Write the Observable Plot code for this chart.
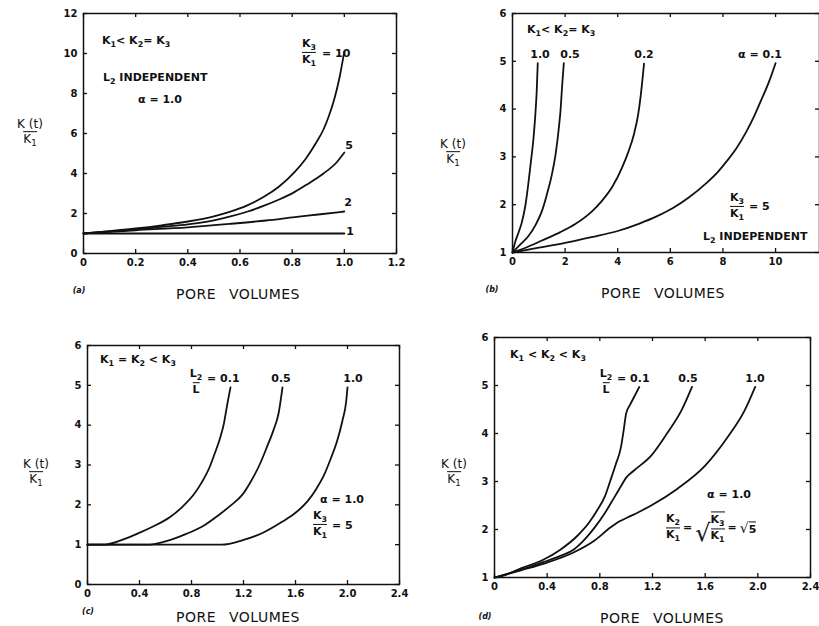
<!DOCTYPE html>
<html>
<head>
<meta charset="utf-8">
<script src="https://cdn.jsdelivr.net/npm/d3@7"></script>
<script src="https://cdn.jsdelivr.net/npm/@observablehq/plot@0.6"></script>
<style>
  html, body { margin: 0; padding: 0; background: #fff; }
  #wrap { position: relative; width: 819px; height: 626px; overflow: hidden; background: #fff; font-family: "DejaVu Sans", sans-serif; color: #111; }
  .pl { position: absolute; }
  .ann { position: absolute; white-space: pre; line-height: 1; font-size: 11px; font-weight: bold; color: #111; }
  .c { transform: translate(-50%, -50%); }
  .l { transform: translate(0, -50%); }
  .frac { display: inline-flex; flex-direction: column; align-items: center; vertical-align: middle; line-height: 1.05; }
  .frac .den { border-top: 1.3px solid #111; padding-top: 1px; }
  .sb { font-size: 0.72em; vertical-align: -0.35em; }
  .xl { font-size: 14px; font-weight: normal; letter-spacing: 0.5px; word-spacing: 8px; }
  .yl { font-size: 12px; font-weight: normal; }
  .pan { font-size: 8px; font-style: italic; font-weight: bold; }
  .row { display: inline-flex; align-items: center; gap: 3px; }
  .sq { display: inline-flex; align-items: flex-end; }
  .rad { font-size: 24px; font-weight: normal; line-height: 0.9; }
  .rad.s { font-size: 14px; }
  .ov { display: inline-block; border-top: 1.3px solid #111; padding-top: 2px; }
</style>
</head>
<body>
<div id="wrap"></div>
<script>
// ---------------- DATA ----------------
// Panel (a): K(t)/K1 vs pore volumes, curves labelled by K3/K1
const aXTicks = [0, 0.2, 0.4, 0.6, 0.8, 1.0, 1.2];
const aYTicks = [0, 2, 4, 6, 8, 10, 12];
const aRatio10 = [[0,1],[0.1,1.12],[0.2,1.25],[0.3,1.41],[0.4,1.6],[0.5,1.86],[0.56,2.08],[0.63,2.42],[0.69,2.82],[0.75,3.35],[0.81,4.08],[0.85,4.7],[0.89,5.5],[0.92,6.2],[0.94,6.85],[0.96,7.65],[0.98,8.7],[1.0,10.1]];
const aRatio5  = [[0,1],[0.1,1.1],[0.2,1.2],[0.3,1.33],[0.4,1.46],[0.5,1.66],[0.56,1.84],[0.63,2.1],[0.69,2.38],[0.75,2.7],[0.81,3.08],[0.86,3.48],[0.92,4.0],[0.97,4.55],[1.0,5.05]];
const aRatio2  = [[0,1],[0.2,1.16],[0.4,1.31],[0.56,1.48],[0.7,1.65],[0.81,1.82],[0.9,1.95],[1.0,2.1]];
const aRatio1  = [[0,1],[0.5,1],[1.0,1]];

// Panel (b): curves labelled by alpha
const bXTicks = [0, 2, 4, 6, 8, 10];
const bYTicks = [1, 2, 3, 4, 5, 6];
const bAlpha10 = [[0,1],[0.12,1.25],[0.25,1.45],[0.35,1.62],[0.5,2.02],[0.6,2.43],[0.7,2.9],[0.8,3.4],[0.87,3.9],[0.92,4.37],[0.96,4.96]];
const bAlpha05 = [[0,1],[0.3,1.17],[0.6,1.34],[0.9,1.6],[1.12,1.87],[1.3,2.2],[1.5,2.64],[1.65,3.1],[1.76,3.6],[1.83,4.0],[1.88,4.43],[1.95,4.96]];
const bAlpha02 = [[0,1],[0.5,1.1],[1.12,1.25],[1.8,1.42],[2.4,1.6],[3.0,1.85],[3.4,2.08],[3.8,2.38],[4.16,2.77],[4.4,3.1],[4.62,3.48],[4.78,3.9],[4.88,4.31],[5.0,4.95]];
const bAlpha01 = [[0,1],[0.5,1.05],[1,1.1],[2,1.2],[3,1.32],[4,1.45],[4.8,1.6],[5.5,1.76],[6.1,1.93],[6.7,2.15],[7.37,2.45],[7.8,2.68],[8.13,2.9],[8.5,3.17],[8.9,3.54],[9.2,3.87],[9.4,4.12],[9.77,4.6],[10.0,4.96]];

// Panel (c): curves labelled by L2/L
const cXTicks = [0, 0.4, 0.8, 1.2, 1.6, 2.0, 2.4];
const cYTicks = [0, 1, 2, 3, 4, 5, 6];
const cL01 = [[0,1],[0.12,1],[0.25,1.1],[0.38,1.27],[0.5,1.45],[0.63,1.68],[0.73,1.95],[0.82,2.27],[0.88,2.57],[0.94,2.95],[0.98,3.3],[1.02,3.68],[1.05,4.05],[1.07,4.43],[1.1,4.95]];
const cL05 = [[0,1],[0.48,1],[0.6,1.08],[0.76,1.27],[0.88,1.45],[1.02,1.77],[1.1,1.98],[1.19,2.25],[1.25,2.55],[1.33,3.05],[1.38,3.45],[1.43,3.87],[1.47,4.3],[1.5,4.95]];
const cL10 = [[0,1],[1.03,1],[1.2,1.12],[1.35,1.3],[1.5,1.58],[1.6,1.8],[1.69,2.08],[1.76,2.4],[1.82,2.75],[1.87,3.15],[1.92,3.6],[1.96,4.1],[1.99,4.6],[2.0,4.95]];

// Panel (d): curves labelled by L2/L
const dXTicks = [0, 0.4, 0.8, 1.2, 1.6, 2.0, 2.4];
const dYTicks = [1, 2, 3, 4, 5, 6];
const dL01 = [[0,1],[0.07,1.04],[0.2,1.19],[0.37,1.37],[0.5,1.58],[0.63,1.87],[0.72,2.15],[0.78,2.4],[0.84,2.7],[0.88,3.02],[0.92,3.35],[0.96,3.71],[0.98,4.05],[1.0,4.42],[1.03,4.6],[1.06,4.76],[1.1,4.97]];
const dL05 = [[0,1],[0.2,1.16],[0.37,1.32],[0.5,1.45],[0.6,1.58],[0.68,1.78],[0.76,2.04],[0.84,2.35],[0.91,2.67],[0.96,2.9],[1.0,3.08],[1.06,3.23],[1.19,3.54],[1.31,4.0],[1.42,4.48],[1.5,4.97]];
const dL10 = [[0,1],[0.2,1.15],[0.4,1.31],[0.6,1.52],[0.76,1.77],[0.88,2.04],[0.95,2.17],[1.01,2.25],[1.1,2.37],[1.19,2.5],[1.39,2.85],[1.6,3.33],[1.77,3.92],[1.9,4.48],[1.98,4.97]];

// ---------------- DRAWING ----------------
const wrap = document.getElementById("wrap");
const INK = "#111";

function rows(list) {
  return list.flatMap(([name, pts]) => pts.map(([x, y]) => ({s: name, x, y})));
}
const fmt1 = d => d === 0 ? "0" : d3.format(".1f")(d);
const fmt0 = d => String(d);

function panel(o) {
  const innerW = o.width - o.ml - o.mr;
  const innerH = o.height - o.mt - o.mb;
  const T = 4;
  const svg = Plot.plot({
    width: o.width, height: o.height,
    marginLeft: o.ml, marginRight: o.mr, marginTop: o.mt, marginBottom: o.mb,
    style: {fontFamily: "DejaVu Sans, sans-serif", fontSize: "10px", fontWeight: "bold", background: "transparent", color: INK, overflow: "visible"},
    x: {domain: o.xDomain},
    y: {domain: o.yDomain},
    marks: [
      Plot.frame({stroke: INK, strokeWidth: 1.5}),
      Plot.tickX(o.xTicks, {x: d => d, insetTop: innerH - T, stroke: INK, strokeWidth: 1.3}),
      Plot.tickX(o.xTicks, {x: d => d, insetBottom: innerH - T, stroke: INK, strokeWidth: 1.3}),
      Plot.tickY(o.yTicks, {y: d => d, insetRight: innerW - T, stroke: INK, strokeWidth: 1.3}),
      Plot.tickY(o.yTicks, {y: d => d, insetLeft: innerW - T, stroke: INK, strokeWidth: 1.3}),
      Plot.axisX(o.xTicks, {anchor: "bottom", tickSize: 0, tickPadding: 5, tickFormat: o.xFmt, label: null, fill: INK}),
      Plot.axisY(o.yTicks, {anchor: "left", tickSize: 0, tickPadding: 6, tickFormat: fmt0, label: null, fill: INK}),
      Plot.line(rows(o.series), {x: "x", y: "y", z: "s", curve: "monotone-x", stroke: INK, strokeWidth: 1.8})
    ]
  });
  svg.classList.add("pl");
  svg.style.left = o.left + "px";
  svg.style.top = o.top + "px";
  wrap.appendChild(svg);
}

panel({left: 0, top: 0, width: 410, height: 300, ml: 83, mr: 14, mt: 13, mb: 47,
  xDomain: [0, 1.2], yDomain: [0, 12], xTicks: aXTicks, yTicks: aYTicks, xFmt: fmt1,
  series: [["10", aRatio10], ["5", aRatio5], ["2", aRatio2], ["1", aRatio1]]});

panel({left: 410, top: 0, width: 409, height: 300, ml: 102, mr: 0, mt: 13, mb: 48,
  xDomain: [0, 11.67], yDomain: [1, 6], xTicks: bXTicks, yTicks: bYTicks, xFmt: fmt0,
  series: [["1.0", bAlpha10], ["0.5", bAlpha05], ["0.2", bAlpha02], ["0.1", bAlpha01]]});

panel({left: 0, top: 300, width: 410, height: 326, ml: 87, mr: 11, mt: 45, mb: 42,
  xDomain: [0, 2.4], yDomain: [0, 6], xTicks: cXTicks, yTicks: cYTicks, xFmt: fmt1,
  series: [["0.1", cL01], ["0.5", cL05], ["1.0", cL10]]});

panel({left: 410, top: 300, width: 409, height: 326, ml: 84, mr: 9, mt: 37, mb: 49,
  xDomain: [0, 2.4], yDomain: [1, 6], xTicks: dXTicks, yTicks: dYTicks, xFmt: fmt1,
  series: [["0.1", dL01], ["0.5", dL05], ["1.0", dL10]]});

// ---------------- ANNOTATIONS ----------------
function ann(x, y, html, cls = "c", extra = "") {
  const d = document.createElement("div");
  d.className = "ann " + cls + " " + extra;
  d.style.left = x + "px";
  d.style.top = y + "px";
  d.innerHTML = html;
  wrap.appendChild(d);
}
const K = n => `K<span class="sb">${n}</span>`;
const frac = (a, b) => `<span class="frac"><span>${a}</span><span class="den">${b}</span></span>`;
const ylab = `<span class="frac"><span>K (t)</span><span class="den">${K(1)}</span></span>`;

// (a)
ann(102, 42, `${K(1)}&lt; ${K(2)}= ${K(3)}`, "l");
ann(309, 53, frac(K(3), K(1)));
ann(322, 53, "= 10", "l");
ann(349, 145, "5");
ann(348, 202, "2");
ann(350, 231, "1");
ann(103, 79, `L<span class="sb">2</span> INDEPENDENT`, "l");
ann(138, 99, "α = 1.0", "l");
ann(30, 133, ylab, "c", "yl");
ann(79, 291, "(a)", "c", "pan");
ann(238, 294, "PORE VOLUMES", "c", "xl");

// (b)
ann(527, 31, `${K(1)}&lt; ${K(2)}= ${K(3)}`, "l");
ann(540, 54, "1.0");
ann(570, 54, "0.5");
ann(644, 54, "0.2");
ann(760, 54, "α = 0.1");
ann(737, 207, frac(K(3), K(1)));
ann(749, 206, "= 5", "l");
ann(703, 238, `L<span class="sb">2</span> INDEPENDENT`, "l");
ann(453, 153, ylab, "c", "yl");
ann(492, 290, "(b)", "c", "pan");
ann(663, 293, "PORE VOLUMES", "c", "xl");

// (c)
ann(100, 361, `${K(1)} = ${K(2)} &lt; ${K(3)}`, "l");
ann(196, 382, frac(`L<span class="sb">2</span>`, "L"));
ann(207, 378, "= 0.1", "l");
ann(281, 378, "0.5");
ann(353, 378, "1.0");
ann(342, 499, "α = 1.0");
ann(320, 525, frac(K(3), K(1)));
ann(332, 525, "= 5", "l");
ann(36, 473, ylab, "c", "yl");
ann(88, 612, "(c)", "c", "pan");
ann(238, 617, "PORE VOLUMES", "c", "xl");

// (d)
ann(510, 356, `${K(1)} &lt; ${K(2)} &lt; ${K(3)}`, "l");
ann(606, 382, frac(`L<span class="sb">2</span>`, "L"));
ann(617, 378, "= 0.1", "l");
ann(688, 378, "0.5");
ann(755, 378, "1.0");
ann(729, 494, "α = 1.0");
ann(666, 528,
  `<span class="row">${frac(K(2), K(1))}<span>=</span>` +
  `<span class="sq"><span class="rad">√</span><span class="ov">${frac(K(3), K(1))}</span></span>` +
  `<span>=</span><span class="sq"><span class="rad s">√</span><span class="ov">5</span></span></span>`, "l");
ann(454, 473, ylab, "c", "yl");
ann(485, 617, "(d)", "c", "pan");
ann(662, 618, "PORE VOLUMES", "c", "xl");
</script>
</body>
</html>
